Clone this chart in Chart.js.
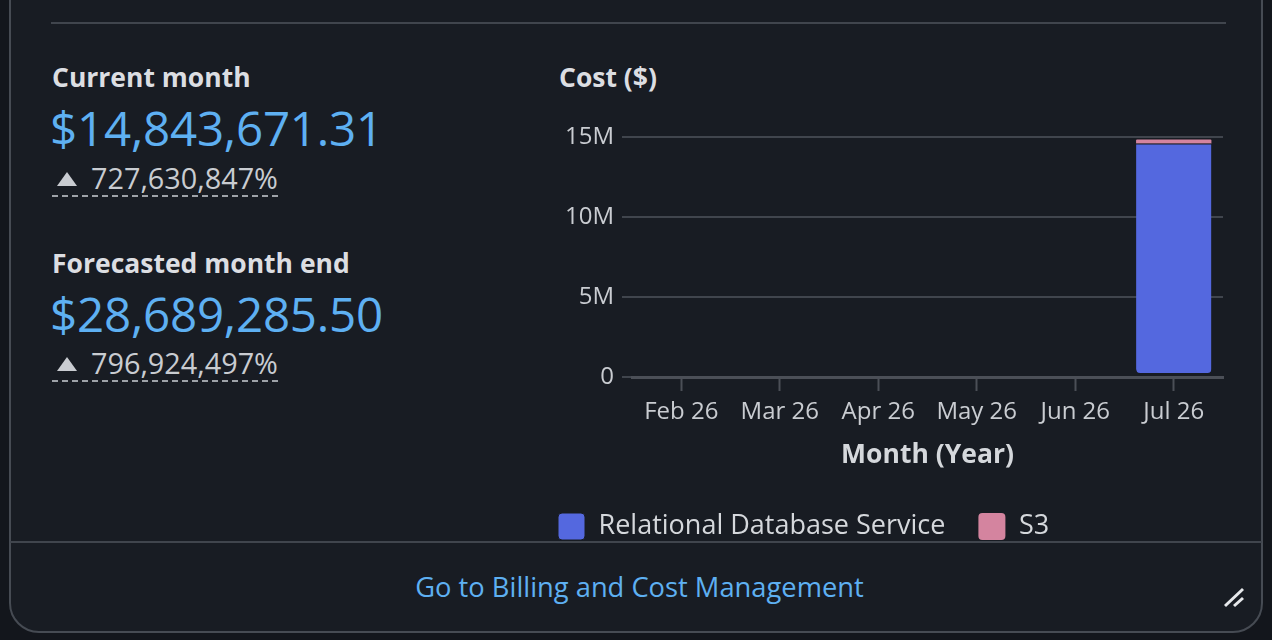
<!DOCTYPE html>
<html>
<head>
<meta charset="utf-8">
<script src="https://cdn.jsdelivr.net/npm/chart.js@4.4.1/dist/chart.umd.min.js"></script>
<style>
  html, body { margin: 0; padding: 0; }
  body {
    width: 1272px; height: 640px; overflow: hidden; position: relative;
    background: #13161c; font-family: "Open Sans", sans-serif;
  }
  .card {
    position: absolute; left: 9px; top: -40px; width: 1254px; height: 673px;
    box-sizing: border-box; border: 2px solid #464b53; border-radius: 30px;
    background: #181c23;
  }
  .sep { position: absolute; background: #40454d; height: 2px; }
  .txt { position: absolute; white-space: nowrap; }
  .label { color: #dcdee2; font-weight: 700; font-size: 26.5px; line-height: 30px; }
  .big { color: #5eb0f2; font-size: 47.5px; line-height: 56px; letter-spacing: -0.2px; }
  .pct {
    color: #c9ccd1; font-size: 28.8px; line-height: 30px;
    border-bottom: 2px dashed #9ea2a8; padding-bottom: 2px;
  }
  .tri {
    display: inline-block; width: 0; height: 0; margin: 0 14px 3px 5px;
    border-left: 10px solid transparent; border-right: 10px solid transparent;
    border-bottom: 14px solid #c9ccd1;
  }
  .link { color: #5eb0f2; font-size: 27.3px; line-height: 30px; }
  #wrap { position: absolute; left: 525px; top: 100px; width: 704px; height: 450px; }
</style>
</head>
<body>
<div class="card"></div>
<div class="sep" style="left:51px; top:22px; width:1175px;"></div>
<div class="sep" style="left:10px; top:541px; width:1252px;"></div>

<div class="txt label" style="left:52px; top:62px;">Current month</div>
<div class="txt big" style="left:50px; top:100px;">$14,843,671.31</div>
<div class="txt pct" style="left:52px; top:163px;"><span class="tri"></span>727,630,847%</div>

<div class="txt label" style="left:52px; top:248px;">Forecasted month end</div>
<div class="txt big" style="left:50px; top:286px;">$28,689,285.50</div>
<div class="txt pct" style="left:52px; top:348px;"><span class="tri"></span>796,924,497%</div>

<div class="txt label" style="left:559px; top:62px;">Cost ($)</div>

<div class="txt link" style="left:0; width:1279px; text-align:center; top:572px;">Go to Billing and Cost Management</div>

<svg style="position:absolute; left:1222px; top:586px;" width="28" height="24" viewBox="0 0 28 24">
  <line x1="3" y1="20" x2="21" y2="3" stroke="#e6e8eb" stroke-width="3"/>
  <line x1="12" y1="20" x2="21" y2="12" stroke="#e6e8eb" stroke-width="3"/>
</svg>

<div id="wrap"><canvas id="costChart"></canvas></div>

<script>
const months = ["Feb 26", "Mar 26", "Apr 26", "May 26", "Jun 26", "Jul 26"];
const rdsCost = [0, 0, 0, 0, 0, 14600000];
const s3Cost = [0, 0, 0, 0, 0, 243671];
const yTicks = [0, 5000000, 10000000, 15000000];

const cardBg = "#181c23";
const gridColor = "#40454d";
const tickColor = "#c9ccd1";

function shortMoney(v) {
  if (v === 0) return "0";
  return (v / 1000000) + "M";
}

const ctx = document.getElementById("costChart").getContext("2d");
new Chart(ctx, {
  type: "bar",
  data: {
    labels: months,
    datasets: [
      {
        label: "Relational Database Service",
        data: rdsCost,
        backgroundColor: "#5468df",
        borderColor: cardBg,
        borderWidth: { top: 1, bottom: 3, left: 0, right: 0 },
        borderSkipped: false,
        borderRadius: { topLeft: 0, topRight: 0, bottomLeft: 7, bottomRight: 7 },
      },
      {
        label: "S3",
        data: s3Cost,
        backgroundColor: "#d4849f",
        borderWidth: 0,
        borderSkipped: false,
        borderRadius: { topLeft: 1, topRight: 1, bottomLeft: 0, bottomRight: 0 },
      },
    ],
  },
  options: {
    responsive: true,
    maintainAspectRatio: false,
    animation: false,
    layout: { padding: { top: 37, right: 6, left: 0, bottom: 0 } },
    datasets: { bar: { categoryPercentage: 1, barPercentage: 0.765 } },
    plugins: {
      tooltip: { enabled: false },
      legend: {
        position: "bottom",
        align: "start",
        labels: {
          color: "#d5d8dc",
          font: { family: "Open Sans", size: 27 },
          boxWidth: 27,
          boxHeight: 27,
          useBorderRadius: true,
          borderRadius: 4,
          padding: 33,
        },
      },
    },
    scales: {
      x: {
        stacked: true,
        grid: {
          offset: false,
          drawOnChartArea: false,
          drawTicks: true,
          tickLength: 14,
          tickWidth: 2,
          tickColor: "#4b4f57",
        },
        border: { display: true, color: "#4b4f57", width: 3 },
        ticks: {
          color: tickColor,
          padding: 7,
          font: { family: "Open Sans", size: 24 },
          maxRotation: 0,
        },
        title: {
          display: true,
          text: "Month (Year)",
          color: "#d5d8dc",
          font: { family: "Open Sans", size: 26.5, weight: "bold" },
          padding: { top: 0, bottom: 9 },
        },
        afterFit(scale) { scale.height = 103; },
      },
      y: {
        stacked: true,
        min: 0,
        max: 15000000,
        afterBuildTicks(scale) { scale.ticks = yTicks.map(v => ({ value: v })); },
        grid: {
          color: gridColor,
          lineWidth: 2,
          drawTicks: true,
          tickLength: 10,
        },
        border: { display: false },
        ticks: {
          color: tickColor,
          padding: 8,
          font: { family: "Open Sans", size: 24 },
          callback: v => shortMoney(v),
        },
        afterFit(scale) { scale.width = 107; },
      },
    },
  },
});
</script>
</body>
</html>
